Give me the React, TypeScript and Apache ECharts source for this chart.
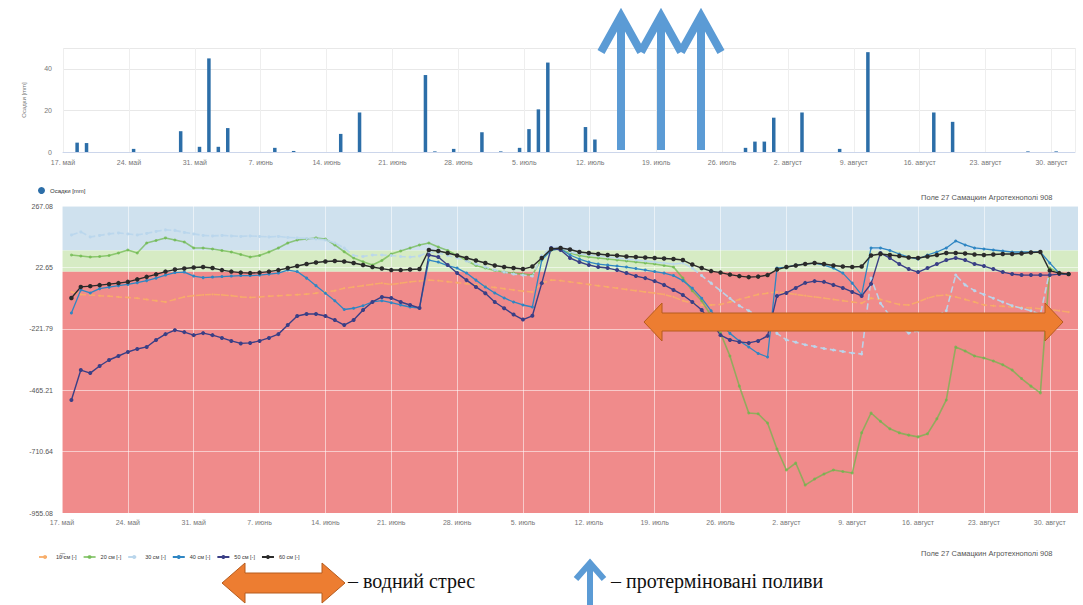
import React, { useEffect, useRef } from "react";
import * as echarts from "echarts";

// week tick labels (every 7 days from 17 May)
const weekLabels = [
  "17. май", "24. май", "31. май", "7. июнь", "14. июнь", "21. июнь", "28. июнь",
  "5. июль", "12. июль", "19. июль", "26. июль", "2. август", "9. август",
  "16. август", "23. август", "30. август",
];

// precipitation: day index (0 = 17 May) and mm
const rainDays = [1, 2, 7, 12, 14, 15, 16, 17, 22, 24, 29, 31, 38, 39, 41, 44, 46, 48, 49, 50, 51, 55, 56, 72, 73, 74, 75, 78, 82, 85, 92, 94, 102, 105];
const rainMm = [4.5, 4.3, 1.5, 10, 2.5, 45, 2.5, 11.5, 2, 0.5, 8.7, 19, 37, 0.3, 1.5, 9.5, 0.3, 2, 11, 20.5, 43, 12, 6, 2, 5, 5, 16.5, 19, 1.5, 48, 19, 14.5, 0.3, 0.3];

// soil moisture tension, daily values from day 1 (18 May) to day 107
const s10 = [
  -75, -85, -87, -90, -92, -95, -97, -100, -105, -110,
  -115, -105, -95, -90, -87, -85, -87, -90, -95, -97,
  -95, -92, -90, -88, -86, -84, -80, -75, -70, -60,
  -55, -50, -45, -40, -45, -40, -35, -32, -28, -30,
  -34, -38, -42, -47, -52, -57, -62, -67, -72, -75,
  -40, -28, -30, -35, -40, -45, -50, -55, -60, -65,
  -70, -75, -80, -85, -95, -110, -120, -127, -127, -125,
  -115, -105, -95, -85, -80, -75, -80, -85, -90, -95,
  -100, -105, -110, -115, -120, -100, -105, -115, -125, -127,
  -115, -100, -90, -87, -95, -105, -115, -127, -130, -132,
  -135, -137, -139, -142, -145, -150, -155,
];
const s20 = [
  72, 68, 64, 66, 70, 80, 92, 80, 120, 130,
  140, 132, 124, 100, 100, 96, 90, 84, 74, 64,
  70, 84, 100, 120, 132, 136, 140, 136, 112, 85,
  60, 45, 32, 50, 76, 88, 100, 112, 120, 104,
  90, 70, 50, 30, 20, 10, 4, 0, -4, -8,
  60, 92, 96, 80, 70, 64, 60, 56, 52, 48,
  44, 40, 36, 30, 24, -20, -70, -110, -170, -239,
  -330, -450, -557, -560, -597, -700, -784, -756, -844, -820,
  -800, -784, -790, -796, -636, -557, -590, -620, -636, -645,
  -652, -640, -580, -505, -294, -310, -330, -338, -350, -365,
  -386, -420, -450, -477, 20, 0, -4,
];
const s30 = [
  152, 164, 144, 150, 156, 160, 156, 152, 158, 166,
  172, 170, 162, 156, 150, 148, 150, 148, 146, 148,
  146, 144, 146, 142, 140, 138, 136, 132, 120, 100,
  70, 66, 72, 72, 70, 66, 64, 68, 84, 80,
  70, 60, 48, 36, 24, 12, 4, -4, -8, -12,
  70, 100, 104, 84, 76, 72, 68, 64, 60, 56,
  52, 48, 44, 40, 36, 40, 20, -10, -40, -70,
  -100, -130, -150, -170, -190, -240, -266, -275, -285, -292,
  -300, -306, -312, -318, -322, -20, -120, -170, -210, -239,
  -230, -200, -170, -150, -8, -47, -70, -85, -100, -115,
  -130, -140, -150, -165, 10, 0, -4,
];
const s40 = [
  -159, -67, -79, -62, -56, -50, -45, -38, -30, -20,
  -8, 2, 4, -12, -18, -16, -14, -12, -10, -10,
  -8, -4, 0, 12, 6, -20, -50, -80, -110, -145,
  -140, -130, -115, -110, -118, -127, -135, -139, 52, 44,
  30, 20, 0, -28, -55, -79, -99, -115, -127, -135,
  52, 92, 96, 72, 56, 44, 36, 32, 28, 24,
  18, 12, 6, 0, -10, -30, -60, -100, -150, -200,
  -240, -270, -294, -320, -334, 20, 24, 32, 36, 40,
  32, 20, 0, -40, -87, 100, 100, 90, 76, 64,
  56, 72, 84, 100, 128, 112, 100, 96, 92, 88,
  84, 84, 84, 84, 40, 0, -4,
];
const s50 = [
  -505, -386, -398, -370, -346, -330, -314, -302, -294, -266,
  -243, -227, -235, -247, -239, -247, -258, -270, -280, -278,
  -270, -258, -243, -207, -171, -163, -163, -171, -187, -207,
  -187, -147, -115, -95, -99, -115, -127, -139, 72, 64,
  32, 0, -28, -55, -80, -115, -140, -165, -185, -170,
  -40, 100, 92, 60, 44, 32, 24, 20, 12, 0,
  -12, -20, -32, -47, -67, -87, -115, -147, -195, -247,
  -266, -274, -278, -270, -250, -91, -79, -59, -39, -32,
  -35, -47, -59, -75, -91, -43, 80, 60, 36, 16,
  4, 20, 36, 52, 60, 52, 36, 28, 16, 4,
  -4, -8, -8, -8, -8, -4, -4,
];
const s60 = [
  -99, -55, -52, -48, -44, -40, -35, -25, -15, -5,
  6, 14, 18, 22, 24, 20, 12, 6, 2, 0,
  2, 6, 12, 20, 28, 36, 42, 46, 48, 46,
  40, 32, 24, 18, 12, 12, 14, 16, 92, 88,
  80, 70, 60, 50, 40, 30, 24, 20, 16, 26,
  60, 96, 100, 94, 84, 80, 76, 72, 70, 66,
  64, 62, 60, 58, 56, 52, 34, 20, 8, 2,
  -6, -12, -16, -14, -8, 14, 24, 30, 36, 40,
  36, 30, 26, 24, 26, 70, 76, 72, 68, 62,
  60, 66, 72, 80, 80, 78, 74, 72, 74, 76,
  76, 78, 82, 84, 10, 0, -4,
];

const seriesNames = ["10 см [-]", "20 см [-]", "30 см [-]", "40 см [-]", "50 см [-]", "60 см [-]"];

// y tick labels of lower chart
const yMin = -955.08;
const yMax = 267.08;
const yTickLabels = ["-955.08", "-710.64", "-465.21", "-221.79", "22.65", "267.08"];

// zone limits (blue / green / red)
const zoneLimits = [267.08, 90, 5, -955.08];
const zoneColors = ["#cfe1ee", "#d6ebc4", "#f08b8b"];

const fieldTitle = "Поле 27 Самацкин Агротехнополі 908";

export default function App() {
  const ref = useRef<HTMLDivElement>(null);

  useEffect(() => {
    document.body.style.margin = "0";
    const chart = echarts.init(ref.current!, null, { renderer: "svg" });
    const yInterval = (yMax - yMin) / 5;
    const toPairs = (arr: number[]) => arr.map((v, i) => [i + 1, v]);
    const weekFmt = (v: number) => {
      const r = Math.round(v);
      if (Math.abs(v - r) > 0.01 || r % 7 !== 0) return "";
      return weekLabels[r / 7] || "";
    };
    const font = "Liberation Sans";
    const arrowColor = "#5b9bd5";
    const upArrow = (cx: number, top: number, bottom: number, half: number, headH: number, w: number) => [
      { type: "line", z: 100, shape: { x1: cx, y1: top + 3, x2: cx, y2: bottom }, style: { stroke: arrowColor, lineWidth: w } },
      {
        type: "polyline", z: 100,
        shape: { points: [[cx - half, top + headH], [cx, top], [cx + half, top + headH]] },
        style: { stroke: arrowColor, lineWidth: w, fill: null, lineJoin: "miter" },
      },
    ];
    const dblArrow = (x1: number, x2: number, cy: number, headL: number, headH: number, shaftH: number) => ({
      type: "polygon", z: 100,
      shape: {
        points: [
          [x1, cy], [x1 + headL, cy - headH], [x1 + headL, cy - shaftH], [x2 - headL, cy - shaftH],
          [x2 - headL, cy - headH], [x2, cy], [x2 - headL, cy + headH], [x2 - headL, cy + shaftH],
          [x1 + headL, cy + shaftH], [x1 + headL, cy + headH],
        ],
      },
      style: { fill: "#ed7d31", stroke: "#b65c1e", lineWidth: 1 },
    });

    const lineStyles = [
      { color: "#f7ad68", type: "dashed", width: 1.5, sym: 2, opacity: 0.9 },
      { color: "#6bb84a", type: "solid", width: 1.6, sym: 3, opacity: 0.7 },
      { color: "#b9d6ec", type: "dashed", width: 1.6, sym: 3, opacity: 0.95 },
      { color: "#2f86c3", type: "solid", width: 1.3, sym: 3, opacity: 1 },
      { color: "#3a3f86", type: "solid", width: 1.4, sym: 4, opacity: 1 },
      { color: "#2a2a2a", type: "solid", width: 1.4, sym: 4.5, opacity: 1 },
    ];
    const soil = [s10, s20, s30, s40, s50, s60];

    const option: any = {
      animation: false,
      textStyle: { fontFamily: font },
      grid: [
        { left: 63, top: 48, width: 1012, height: 104 },
        { left: 62, top: 206, width: 1016, height: 307 },
      ],
      legend: [
        {
          data: [{ name: "Осадки [mm]", icon: "circle" }],
          left: 33, top: 182, itemWidth: 7, itemHeight: 7,
          textStyle: { fontSize: 6, color: "#333" },
        },
        {
          data: seriesNames,
          left: 33, top: 549, itemWidth: 12, itemHeight: 5, itemGap: 6,
          textStyle: { fontSize: 5.5, color: "#333" },
        },
      ],
      xAxis: [
        {
          gridIndex: 0, type: "value", min: 0, max: 107.5, interval: 7,
          axisLine: { lineStyle: { color: "#ccd6eb" } }, axisTick: { show: false },
          axisLabel: { formatter: weekFmt, fontSize: 7, color: "#777", margin: 7, showMaxLabel: false },
          splitLine: { show: true, lineStyle: { color: "#eeeeee" } },
        },
        {
          gridIndex: 1, type: "value", min: 0, max: 108, interval: 7, z: 1.5,
          axisLine: { show: false }, axisTick: { show: false },
          axisLabel: { formatter: weekFmt, fontSize: 7, color: "#777", margin: 6, showMaxLabel: false },
          splitLine: { show: true, lineStyle: { color: "rgba(255,255,255,0.55)" } },
        },
      ],
      yAxis: [
        {
          gridIndex: 0, type: "value", min: 0, max: 50, interval: 20,
          name: "Осадки [mm]", nameLocation: "middle", nameGap: 36, nameRotate: 90,
          nameTextStyle: { fontSize: 6, color: "#777" },
          axisLine: { show: false }, axisTick: { show: false },
          axisLabel: { fontSize: 7, color: "#777", margin: 11, showMaxLabel: false },
          splitLine: { lineStyle: { color: "#e8e8e8" } },
        },
        {
          gridIndex: 1, type: "value", min: yMin, max: yMax, interval: yInterval, z: 1.5,
          name: "[-]", nameLocation: "start", nameGap: 40, nameRotate: 90,
          nameTextStyle: { fontSize: 5, color: "#777" },
          axisLine: { show: false }, axisTick: { show: false },
          axisLabel: {
            fontSize: 7, color: "#555", margin: 9,
            formatter: (v: number) => yTickLabels[Math.round((v - yMin) / yInterval)] || "",
          },
          splitLine: { lineStyle: { color: "rgba(255,255,255,0.55)" } },
        },
      ],
      series: [
        {
          name: "Осадки [mm]", type: "bar", xAxisIndex: 0, yAxisIndex: 0,
          data: rainDays.map((d, i) => [d + 0.5, rainMm[i]]),
          barWidth: 3.5, itemStyle: { color: "#2c6ea8" },
        },
        {
          name: "zones", type: "line", xAxisIndex: 1, yAxisIndex: 1, data: [], silent: true,
          markArea: {
            silent: true,
            data: zoneColors.map((c, i) => [
              { yAxis: zoneLimits[i], itemStyle: { color: c } },
              { yAxis: zoneLimits[i + 1] },
            ]),
          },
        },
        ...soil.map((arr, i) => ({
          name: seriesNames[i], type: "line", xAxisIndex: 1, yAxisIndex: 1, z: 3,
          data: toPairs(arr),
          symbol: "circle", symbolSize: lineStyles[i].sym, showSymbol: true,
          itemStyle: { color: lineStyles[i].color, opacity: lineStyles[i].opacity },
          lineStyle: {
            color: lineStyles[i].color, width: lineStyles[i].width,
            type: lineStyles[i].type, opacity: lineStyles[i].opacity,
          },
        })),
      ],
      graphic: [
        ...upArrow(621, 16, 150, 20, 36, 8),
        ...upArrow(661, 16, 150, 20, 36, 8),
        ...upArrow(701, 16, 150, 20, 36, 8),
        dblArrow(644, 1063, 322, 18, 19, 9),
        dblArrow(222, 345, 583, 23, 20, 10),
        ...upArrow(590, 563, 605, 14, 16, 6),
        {
          type: "text", left: 348, top: 571, z: 100,
          style: { text: "– водний стрес", font: '20px "Liberation Serif"', fill: "#111" },
        },
        {
          type: "text", left: 611, top: 571, z: 100,
          style: { text: "– протерміновані поливи", font: '20px "Liberation Serif"', fill: "#111" },
        },
        {
          type: "text", left: 921, top: 193, z: 100,
          style: { text: fieldTitle, font: '7.5px "Liberation Sans"', fill: "#555" },
        },
        {
          type: "text", left: 921, top: 549, z: 100,
          style: { text: fieldTitle, font: '7.5px "Liberation Sans"', fill: "#555" },
        },
      ],
    };
    chart.setOption(option);
    return () => chart.dispose();
  }, []);

  return <div ref={ref} style={{ width: 1083, height: 605 }} />;
}
